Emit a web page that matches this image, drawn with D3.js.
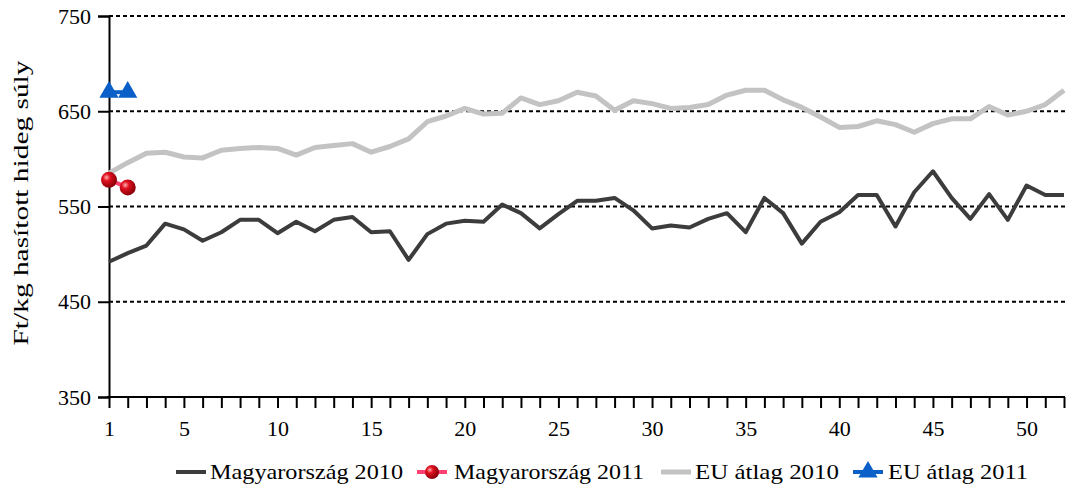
<!DOCTYPE html>
<html><head><meta charset="utf-8">
<script src="https://cdn.jsdelivr.net/npm/d3@7"></script>
<style>body{margin:0;background:#fff}svg{display:block}text{font-family:"Liberation Serif","DejaVu Serif",serif}</style>
</head><body><svg id="c" width="1071" height="495"></svg>
<script>
const weeks = d3.range(1, 53);
const hu2010 = [492,501,509,532,526,514,523,536,536,522,534,524,536,539,523,524,494,521,532,535,534,552,543,527,542,556,556,559,546,527,530,528,537,543,523,559,543,511,534,544,562,562,529,565,587,559,537,563,536,572,562,562];
const eu2010 = [585,596,606,607,602,601,609,611,612,611,604,612,614,616,607,613,621,639,645,653,647,648,664,657,661,670,666,651,661,658,653,654,657,667,672,672,662,654,644,633,634,640,636,628,637,642,642,655,646,650,657,672];
const hu2011 = [578,570];
const eu2011 = [670,670];
const yTicks = [350,450,550,650,750];
const xTickLabels = [1,5,10,15,20,25,30,35,40,45,50];
const yTitle = "Ft/kg hasított hideg súly";
const legendNames = ["Magyarország 2010","Magyarország 2011","EU átlag 2010","EU átlag 2011"];

const svg = d3.select("#c");
const x = d3.scalePoint().domain(weeks).range([109, 1064]);
const y = d3.scaleLinear().domain([350, 750]).range([397, 16]);

const defs = svg.append("defs");
const rg = defs.append("radialGradient").attr("id","ball").attr("cx","35%").attr("cy","35%").attr("r","65%");
rg.append("stop").attr("offset","0%").attr("stop-color","#ffb0b0");
rg.append("stop").attr("offset","35%").attr("stop-color","#e01020");
rg.append("stop").attr("offset","100%").attr("stop-color","#8a0008");

// gridlines
svg.append("g").selectAll("line").data(yTicks.filter(d=>d>350)).join("line")
  .attr("x1",109).attr("x2",1065).attr("y1",d=>y(d)).attr("y2",d=>y(d))
  .attr("stroke","#000").attr("stroke-width",2).attr("stroke-dasharray","4,3");

// axes
const ya = svg.append("g").attr("transform","translate(109,0)")
  .call(d3.axisLeft(y).tickValues(yTicks).tickSize(11).tickPadding(7));
ya.select(".domain").attr("stroke-width",2);
ya.selectAll(".tick line").attr("stroke-width",2);
ya.selectAll("text").attr("font-size",22).attr("fill","#000");

const xa = svg.append("g").attr("transform","translate(0,397)")
  .call(d3.axisBottom(x).tickValues(weeks).tickSize(11).tickSizeOuter(0).tickPadding(12)
    .tickFormat(d=>xTickLabels.includes(d)?d:""));
xa.select(".domain").attr("stroke-width",2).attr("d","M107,0H1065");
xa.selectAll(".tick line").attr("stroke-width",2);
xa.selectAll("text").attr("font-size",22).attr("fill","#000");

svg.append("text").attr("transform","translate(28,203) rotate(-90)")
  .attr("text-anchor","middle").attr("font-size",22)
  .attr("textLength",285).attr("lengthAdjust","spacingAndGlyphs").text(yTitle);

const line = d3.line().x((d,i)=>x(weeks[i])).y(d=>y(d));
svg.append("path").datum(eu2010).attr("d",line).attr("fill","none")
  .attr("stroke","#c3c3c3").attr("stroke-width",5).attr("stroke-linejoin","round");
svg.append("path").datum(hu2010).attr("d",line).attr("fill","none")
  .attr("stroke","#3c3c3c").attr("stroke-width",4).attr("stroke-linejoin","round");

// EU 2011
svg.append("path").datum(eu2011).attr("d",line).attr("fill","none")
  .attr("stroke","#0a60c8").attr("stroke-width",4);
const tri = d3.symbol().type(d3.symbolTriangle).size(160);
svg.append("g").selectAll("path").data(eu2011).join("path")
  .attr("transform",(d,i)=>`translate(${x(weeks[i])},${y(d)})`).attr("d",tri).attr("fill","#0a60c8");

// HU 2011
svg.append("path").datum(hu2011).attr("d",line).attr("fill","none")
  .attr("stroke","#ff4070").attr("stroke-width",4);
svg.append("g").selectAll("circle").data(hu2011).join("circle")
  .attr("cx",(d,i)=>x(weeks[i])).attr("cy",d=>y(d)).attr("r",8).attr("fill","url(#ball)");

// legend
const lg = svg.append("g").attr("font-size",22);
const ly = 472;
const items = [
  {x:176, t:"line", c:"#3c3c3c", w:4, tx:210, tl:193},
  {x:417, t:"ball", c:"#ff4070", w:4, tx:454, tl:190},
  {x:661, t:"line", c:"#c3c3c3", w:5, tx:695, tl:144},
  {x:853, t:"tri", c:"#0a60c8", w:4, tx:888, tl:140}
];
items.forEach((it,i)=>{
  lg.append("line").attr("x1",it.x).attr("x2",it.x+30).attr("y1",ly).attr("y2",ly)
    .attr("stroke",it.c).attr("stroke-width",it.w);
  if(it.t==="ball") lg.append("circle").attr("cx",it.x+15).attr("cy",ly).attr("r",7).attr("fill","url(#ball)");
  if(it.t==="tri") lg.append("path").attr("transform",`translate(${it.x+15},${ly})`).attr("d",tri).attr("fill",it.c);
  lg.append("text").attr("x",it.tx).attr("y",ly+7).attr("textLength",it.tl)
    .attr("lengthAdjust","spacingAndGlyphs").text(legendNames[i]);
});
</script></body></html>
